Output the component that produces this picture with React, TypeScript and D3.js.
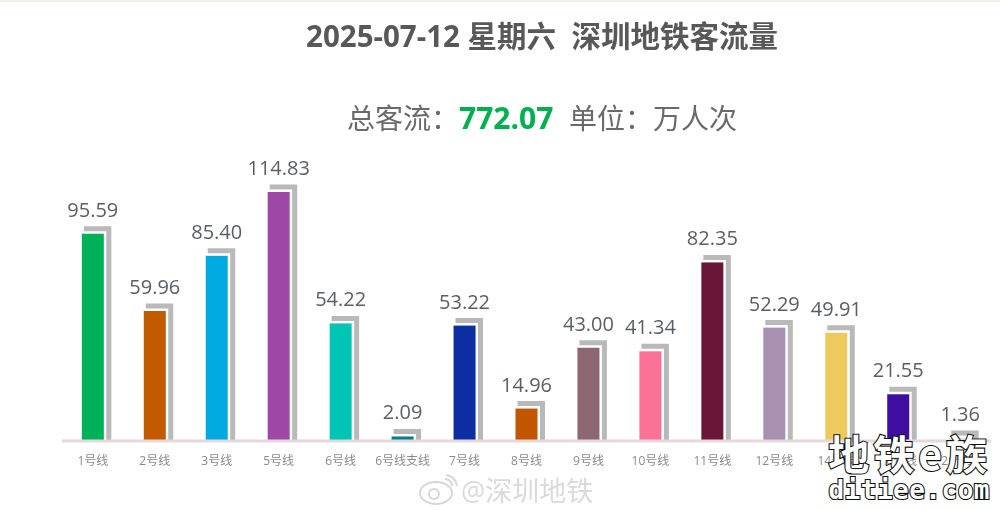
import React from 'react';
import * as d3 from 'd3';

const lines = ['1号线', '2号线', '3号线', '5号线', '6号线', '6号线支线', '7号线', '8号线', '9号线', '10号线', '11号线', '12号线', '14号线', '16号线', '20号线'];
const flow = [95.59, 59.96, 85.40, 114.83, 54.22, 2.09, 53.22, 14.96, 43.00, 41.34, 82.35, 52.29, 49.91, 21.55, 1.36];
const colors = ['#00b15a', '#c25a00', '#00a9e0', '#9e47a6', '#00c5b5', '#00818f', '#0a2fa3', '#c25500', '#8c6670', '#fb7296', '#6b1239', '#a890b0', '#eeca5c', '#3f0ea3', '#d8e6f0'];

const W = 1000;
const H = 510;
const baseY = 441;
const cjk = '"Open Sans", "Noto Sans CJK SC", sans-serif';

const x = d3.scaleBand<string>().domain(lines).range([62, 991]).paddingInner(0.645).paddingOuter(0.32);
const y = d3.scaleLinear().domain([0, 114.83]).range([baseY, 192]);

export default function App() {
  const bw = x.bandwidth();
  return (
    <div>
      <style>{'body{margin:0;background:#fff}'}</style>
      <svg width={W} height={H} viewBox={`0 0 ${W} ${H}`} style={{ display: 'block' }}>
        <defs>
          <filter id="soft" x="-5%" y="-5%" width="110%" height="110%">
            <feGaussianBlur stdDeviation="0.65" />
          </filter>
        </defs>
        <rect width={W} height={H} fill="#fff" />
        <rect width={W} height={2} fill="#f0f1e8" />
        <g filter="url(#soft)">
          <text x={542} y={47} textAnchor="middle" fontFamily={cjk} fontSize={29.5} fontWeight={700} fill="#595959">
            2025-07-12 星期六&#160;&#160;深圳地铁客流量
          </text>
          <text x={542} y={129} textAnchor="middle" fontFamily={cjk} fontSize={28} fill="#6b6b6b">
            总客流：
            <tspan fontWeight={700} fontSize={30} fill="#00b050">772.07&#160;&#160;</tspan>
            单位：万人次
          </text>

          {lines.map((name, i) => {
            const bx = x(name)!;
            const top = y(flow[i]);
            return (
              <g key={name}>
                {/* offset gray frame behind each bar */}
                <path
                  d={`M${bx + 2},${top - 5} H${bx + bw + 5} V${baseY - 1}`}
                  fill="none"
                  stroke="#b9b9b9"
                  strokeWidth={5}
                />
                <rect x={bx} y={top} width={bw} height={baseY - top} fill={colors[i]} />
                <text x={bx + bw / 2} y={top - 17} textAnchor="middle" fontFamily={cjk} fontSize={20} fill="#5a5f66">
                  {flow[i].toFixed(2)}
                </text>
                <text x={bx + bw / 2} y={465} textAnchor="middle" fontFamily={cjk} fontSize={12} fill="#8a8a8a">
                  {name}
                </text>
              </g>
            );
          })}
          <line x1={62} x2={991} y1={baseY} y2={baseY} stroke="#e3d8dc" strokeWidth={3} />
        </g>

        {/* weibo mark */}
        <g filter="url(#soft)" fill="none" stroke="#d6d6d6" strokeWidth={2}>
          <ellipse cx={436} cy={493} rx={16} ry={11} />
          <circle cx={434} cy={494} r={5} />
          <path d="M445,479 a7,7 0 0 1 7,7 M446,475 a12,12 0 0 1 11,11" />
        </g>
        <text x={461} y={501} fontFamily={cjk} fontSize={27} fill="#dadada" filter="url(#soft)">
          @深圳地铁
        </text>

        {/* site watermark */}
        <g fontFamily='"Noto Sans CJK SC", sans-serif' fontWeight={700} fill="#fff" stroke="#111" strokeWidth={2.2} paintOrder="stroke" textAnchor="end">
          <text x={991} y={470} fontSize={41} letterSpacing={4}>地铁e族</text>
          <text x={990} y={499} fontSize={26} fontFamily='"DejaVu Sans Mono", monospace' letterSpacing={0.5}>ditiee.com</text>
        </g>
      </svg>
    </div>
  );
}
